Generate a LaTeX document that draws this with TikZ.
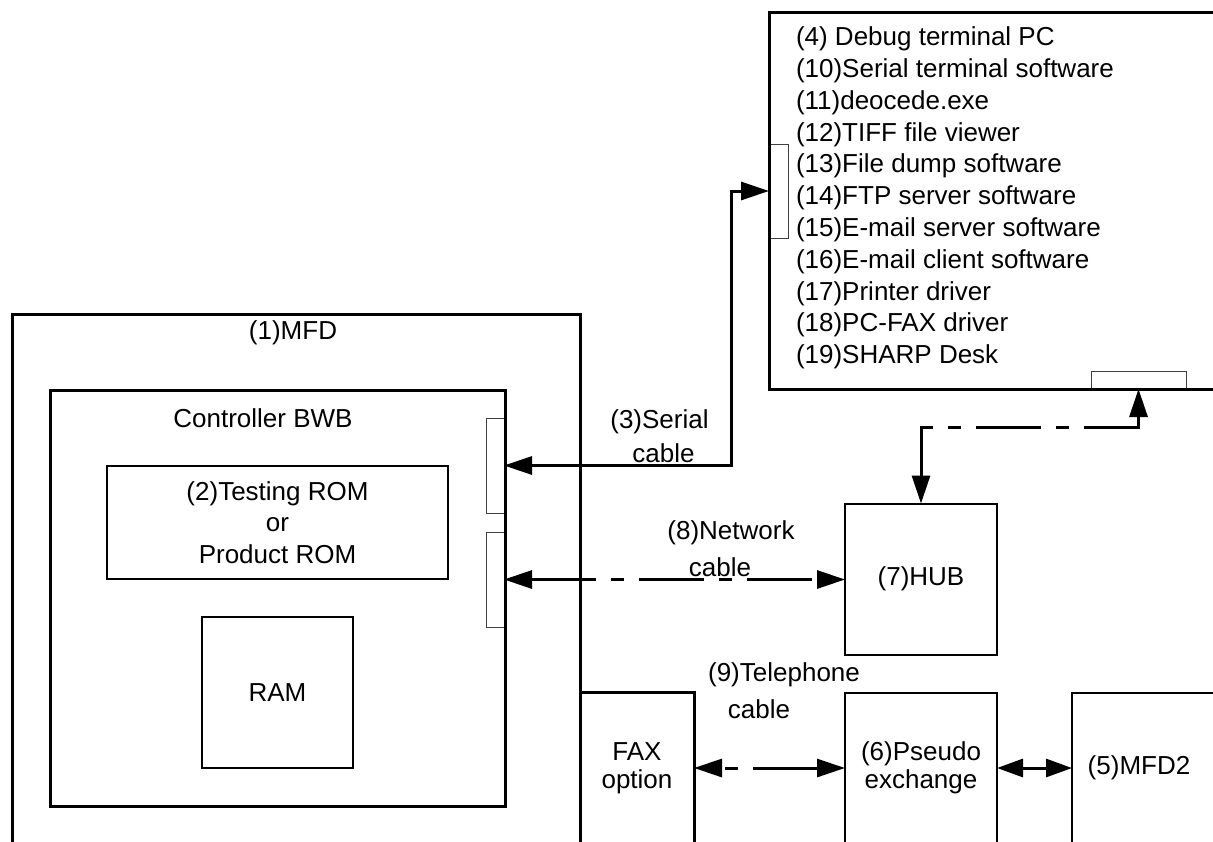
\documentclass[tikz,border=0pt]{standalone}
\usepackage{fontspec}
\setmainfont{Liberation Sans}
\usetikzlibrary{arrows.meta}
\begin{document}
\begin{tikzpicture}[x=1pt,y=-1pt,
  every node/.style={font=\fontsize{26}{31.8}\selectfont, inner sep=0pt, outer sep=0pt},
  heavy/.style={draw, line width=3pt},
  light/.style={draw, line width=2pt},
  port/.style={draw=black!75, line width=1pt},
  wire/.style={line width=3pt, <->},
  dashdot/.style={dash pattern=on 65pt off 15pt on 13pt off 15pt},
  tight/.style={font=\fontsize{26}{28}\selectfont},
  >={Triangle[length=28pt,width=18pt]}]
\useasboundingbox (0,0) rectangle (1213,841);
\fill[white] (0,0) rectangle (1213,841);
\clip (0,0) rectangle (1213,841);

% connector ports (drawn first so the box outlines cover their shared edges)
\node[port, minimum width=18pt, minimum height=95pt] (ser) at (495,465.5) {};
\node[port, minimum width=18pt, minimum height=95pt] (eth) at (495,579.5) {};
\node[port, minimum width=19pt, minimum height=94pt] (pcser) at (778.5,191) {};
\node[port, minimum width=95pt, minimum height=18pt] (pcnet) at (1138.5,380) {};

% MFD and its controller board
\node[heavy, minimum width=568pt, minimum height=600pt] (mfd) at (296,614) {};
\node (l1) at (293,333) {(1)MFD};
\node[heavy, minimum width=455pt, minimum height=416pt] (ctrl) at (277.5,598) {};
\node (lc) at (263,418) {Controller BWB};
\node[light, minimum width=341pt, minimum height=113pt, align=center] (rom) at (277.5,522.5)
  {(2)Testing ROM\\or\\Product ROM};
\node[light, minimum width=151pt, minimum height=151pt] (ram) at (277.5,692.5) {RAM};

% debug terminal PC
\node[heavy, minimum width=491pt, minimum height=377pt] (pc) at (1014.5,200.5) {};
\foreach \t [count=\i from 0] in {{(4) Debug terminal PC},{(10)Serial terminal software},
  {(11)deocede.exe},{(12)TIFF file viewer},{(13)File dump software},{(14)FTP server software},
  {(15)E-mail server software},{(16)E-mail client software},{(17)Printer driver},
  {(18)PC-FAX driver},{(19)SHARP Desk}}
  \node[anchor=base west] (pc\i) at (796,45.75+31.8*\i) {\t};

% hub, fax option, exchange, second MFD
\node[light, minimum width=152pt, minimum height=151pt] (hub) at (921,579) {(7)HUB};
\node[heavy, tight, minimum width=114pt, minimum height=152pt, align=center] (fax) at (637,768) {FAX\\option};
\node[light, tight, minimum width=152pt, minimum height=150pt, align=center] (pbx) at (921,768) {(6)Pseudo\\exchange};
\node[light, minimum width=200pt, minimum height=150pt] (mfd2) at (1172,768) {};
\node (l5) at (1139,768) {(5)MFD2};

% cable labels
\node (l3a) at (659.5,422) {(3)Serial};
\node (l3b) at (663.5,453) {cable};
\node (l8a) at (731,533) {(8)Network};
\node (l8b) at (720,567) {cable};
\node (l9a) at (784,675) {(9)Telephone};
\node (l9b) at (759,709) {cable};

% cables
\coordinate (sbend) at (731,191);
\draw[wire] (pcser.west) -- (sbend) |- (ser.east);
\draw[wire, dashdot] (eth.east) -- (eth.east -| hub.west);
\draw[wire, dashdot] (pcnet.south) -- ++(0,38) -| (hub.north);
\draw[wire, dashdot] (pbx.west) -- (fax.east);
\draw[wire, >={Triangle[length=26pt,width=18pt]}] (pbx.east) -- (mfd2.west);
\end{tikzpicture}
\end{document}
